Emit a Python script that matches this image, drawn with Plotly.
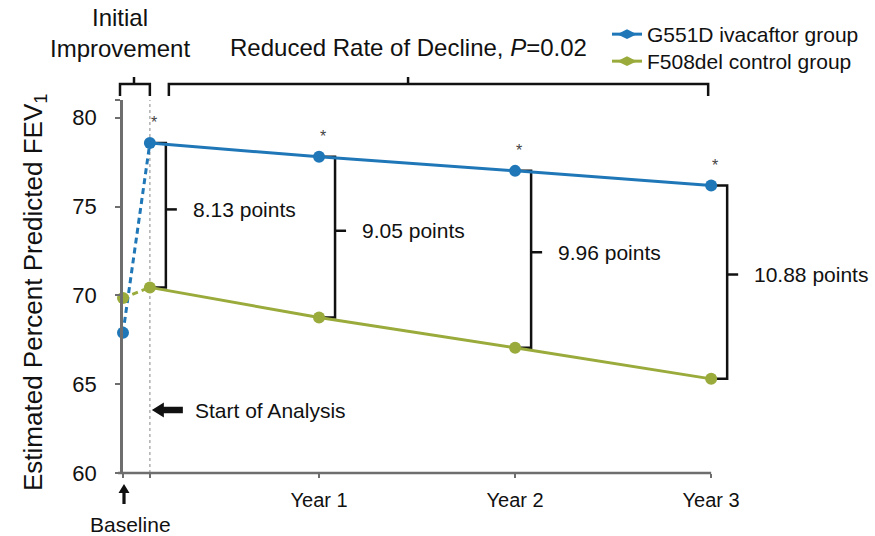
import plotly.graph_objects as go
import numpy as np

# Time points, in years from baseline
baseline_x = 0.0
start_x = 0.137
visit_x = [start_x, 1, 2, 3]

# Estimated percent predicted FEV1
ivacaftor_baseline = 67.9
control_baseline = 69.85
ivacaftor_fev1 = [78.58, 77.80, 77.01, 76.18]
control_fev1 = [70.45, 68.75, 67.05, 65.30]

series_names = ["G551D ivacaftor group", "F508del control group"]
year_ticks = [1, 2, 3]
year_labels = ["Year 1", "Year 2", "Year 3"]
y_ticks = [60, 65, 70, 75, 80]

BLUE = "#1f77b8"
GREEN = "#9aab3c"
INK = "#111111"
AXIS = "#6e6e6e"
FONT = "Liberation Sans, Arial, sans-serif"

W, H = 875, 536
ML, MR, MT, MB = 123, 7, 100, 63
PW, PH = W - ML - MR, H - MT - MB
X_RANGE = [0, 3.8]
Y_RANGE = [60, 81]
PX = (X_RANGE[1] - X_RANGE[0]) / PW   # years per pixel
PY = (Y_RANGE[1] - Y_RANGE[0]) / PH   # FEV1 units per pixel


def xp(v):
    """data x -> paper x"""
    return (v - X_RANGE[0]) / (X_RANGE[1] - X_RANGE[0])


def yp(v):
    """data y -> paper y"""
    return (v - Y_RANGE[0]) / (Y_RANGE[1] - Y_RANGE[0])


def yp_px(py):
    """pixel row -> paper y"""
    return (H - MB - py) / PH


def arrow_path(pts):
    """closed polygon in paper coordinates from (data-x, paper-y) pairs"""
    d = " L ".join(f"{xp(a)},{b}" for a, b in pts)
    return f"M {d} Z"


fig = go.Figure()

# dashed rise from baseline to start of analysis
fig.add_trace(go.Scatter(
    x=[baseline_x, start_x], y=[ivacaftor_baseline, ivacaftor_fev1[0]],
    mode="lines", line=dict(color=BLUE, width=3, dash="6px,4px"),
    showlegend=False, hoverinfo="skip", cliponaxis=False))
fig.add_trace(go.Scatter(
    x=[baseline_x, start_x], y=[control_baseline, control_fev1[0]],
    mode="lines", line=dict(color=GREEN, width=3, dash="6px,4px"),
    showlegend=False, hoverinfo="skip", cliponaxis=False))
fig.add_trace(go.Scatter(
    x=[baseline_x], y=[control_baseline], mode="markers",
    marker=dict(color=GREEN, size=12), showlegend=False, cliponaxis=False))
fig.add_trace(go.Scatter(
    x=[baseline_x], y=[ivacaftor_baseline], mode="markers",
    marker=dict(color=BLUE, size=12), showlegend=False, cliponaxis=False))

# annual trajectories
fig.add_trace(go.Scatter(
    x=visit_x, y=control_fev1, mode="lines+markers",
    line=dict(color=GREEN, width=3), marker=dict(color=GREEN, size=12),
    showlegend=False, cliponaxis=False))
fig.add_trace(go.Scatter(
    x=visit_x, y=ivacaftor_fev1, mode="lines+markers",
    line=dict(color=BLUE, width=3), marker=dict(color=BLUE, size=12),
    showlegend=False, cliponaxis=False))

# legend entries, one legend box per group so rows sit close together
for name, col, lg in zip(series_names, [BLUE, GREEN], ["legend", "legend2"]):
    fig.add_trace(go.Scatter(
        x=[None], y=[None], mode="lines+markers", name=name, legend=lg,
        line=dict(color=col, width=3),
        marker=dict(color=col, size=14, symbol="diamond-wide")))

shapes = []
annotations = []

# start-of-analysis reference line
shapes.append(dict(type="line", xref="x", yref="y", x0=start_x, x1=start_x,
                   y0=Y_RANGE[0], y1=Y_RANGE[1], layer="below",
                   line=dict(color="#b0b0b0", width=1.5, dash="dot")))

# x axis baseline (runs only to Year 3)
shapes.append(dict(type="line", xref="paper", yref="paper",
                   x0=xp(baseline_x - 5 * PX), x1=xp(visit_x[-1]), y0=0, y1=0,
                   line=dict(color=AXIS, width=2.5)))

# difference brackets between the two groups
for i, (xv, top, bot) in enumerate(zip(visit_x, ivacaftor_fev1, control_fev1)):
    xb = xv + 16 * PX
    shapes.append(dict(type="path", xref="x", yref="y", layer="below",
                       path=f"M {xv},{top} L {xb},{top} L {xb},{bot} L {xv},{bot}",
                       line=dict(color=INK, width=2.5)))
    ymid = top - 0.46 * (top - bot)
    shapes.append(dict(type="line", xref="x", yref="y", x0=xb, x1=xb + 11 * PX,
                       y0=ymid, y1=ymid, line=dict(color=INK, width=2.5)))
    annotations.append(dict(x=xb + 25 * PX, y=ymid, xref="x", yref="y",
                            text=f"{top - bot:.2f} points", showarrow=False,
                            xanchor="left", yanchor="middle",
                            font=dict(size=21, color=INK, family=FONT)))
    annotations.append(dict(x=xv, y=top + 1.15, xref="x", yref="y", text="*",
                            showarrow=False, xshift=4,
                            font=dict(size=16, color="#444444", family=FONT)))

# period brackets above the plot
top_y, end_y, tick_y = yp_px(84), yp_px(96), yp_px(77)
periods = [
    (baseline_x - 3 * PX, start_x, baseline_x + 11 * PX),
    (start_x + 19 * PX, visit_x[-1] - 3 * PX, 1.454),
]
for a, b, c in periods:
    shapes.append(dict(type="path", xref="paper", yref="paper",
                       path=(f"M {xp(a)},{end_y} L {xp(a)},{top_y} L {xp(b)},{top_y} "
                             f"L {xp(b)},{end_y}"),
                       line=dict(color=INK, width=2.5)))
    shapes.append(dict(type="line", xref="paper", yref="paper",
                       x0=xp(c), x1=xp(c), y0=top_y, y1=tick_y,
                       line=dict(color=INK, width=2.5)))

annotations.append(dict(x=xp(baseline_x - 3 * PX), y=yp_px(33), xref="paper", yref="paper",
                        text="Initial<br>Improvement", showarrow=False,
                        xanchor="center", yanchor="middle",
                        font=dict(size=24, color=INK, family=FONT)))
annotations.append(dict(x=xp(105 * PX), y=yp_px(48), xref="paper", yref="paper",
                        text="Reduced Rate of Decline, <i>P</i>=0.02", showarrow=False,
                        xanchor="left", yanchor="middle",
                        font=dict(size=24, color=INK, family=FONT)))

# "Start of Analysis" pointer: filled arrow pointing at the reference line
sa_y = yp(60 + 63 * PY)
hy = 7.5 / PH
sy = 3.2 / PH
tip = start_x + 2 * PX
shapes.append(dict(type="path", xref="paper", yref="paper", fillcolor=INK,
                   line=dict(color=INK, width=0),
                   path=arrow_path([(tip, sa_y), (tip + 12 * PX, sa_y + hy),
                                    (tip + 12 * PX, sa_y + sy), (tip + 31 * PX, sa_y + sy),
                                    (tip + 31 * PX, sa_y - sy), (tip + 12 * PX, sa_y - sy),
                                    (tip + 12 * PX, sa_y - hy)])))
annotations.append(dict(x=start_x + 43 * PX, y=60 + 63 * PY, xref="x", yref="y",
                        text="Start of Analysis", showarrow=False,
                        xanchor="left", yanchor="middle",
                        font=dict(size=21, color=INK, family=FONT)))

# Baseline pointer: upward arrow below the axis
bx = baseline_x + 1 * PX
shapes.append(dict(type="path", xref="paper", yref="paper", fillcolor=INK,
                   line=dict(color=INK, width=0),
                   path=arrow_path([(bx, yp_px(484)), (bx + 5.5 * PX, yp_px(493)),
                                    (bx + 1.6 * PX, yp_px(493)), (bx + 1.6 * PX, yp_px(504)),
                                    (bx - 1.6 * PX, yp_px(504)), (bx - 1.6 * PX, yp_px(493)),
                                    (bx - 5.5 * PX, yp_px(493))])))
annotations.append(dict(x=xp(baseline_x + 7 * PX), y=yp_px(524), xref="paper", yref="paper",
                        text="Baseline", showarrow=False, xanchor="center",
                        yanchor="middle", font=dict(size=21, color=INK, family=FONT)))

# y axis title
annotations.append(dict(x=xp(-89 * PX), y=yp_px(293), xref="paper", yref="paper",
                        text="Estimated Percent Predicted FEV<sub>1</sub>",
                        textangle=-90, showarrow=False, xanchor="center",
                        yanchor="middle", font=dict(size=26, color=INK, family=FONT)))

legend_common = dict(xanchor="left", yanchor="top",
                     font=dict(size=21, color=INK, family=FONT),
                     bgcolor="rgba(0,0,0,0)", itemwidth=30)

fig.update_layout(
    width=W, height=H,
    margin=dict(l=ML, r=MR, t=MT, b=MB),
    paper_bgcolor="white", plot_bgcolor="white",
    font=dict(family=FONT, color=INK),
    shapes=shapes, annotations=annotations,
    legend=dict(x=xp(484 * PX), y=yp_px(14), **legend_common),
    legend2=dict(x=xp(484 * PX), y=yp_px(41), **legend_common),
    xaxis=dict(range=X_RANGE, showgrid=False, zeroline=False, showline=False,
               tickvals=year_ticks, ticktext=year_labels,
               ticks="outside", ticklen=4, tickwidth=2, tickcolor=AXIS,
               tickfont=dict(size=20, color=INK, family=FONT),
               ticklabelstandoff=5,
               minor=dict(tickmode="array", tickvals=[baseline_x, start_x],
                          ticks="outside", ticklen=4, tickwidth=2, tickcolor=AXIS,
                          showgrid=False)),
    yaxis=dict(range=Y_RANGE, showgrid=False, zeroline=False, showline=True,
               linecolor=AXIS, linewidth=2.5,
               tickvals=y_ticks, ticktext=[str(v) for v in y_ticks],
               ticks="outside", ticklen=5, tickwidth=2, tickcolor=AXIS,
               tickfont=dict(size=22, color=INK, family=FONT),
               ticklabelstandoff=14,
               minor=dict(tickmode="array", tickvals=[Y_RANGE[1]],
                          ticks="outside", ticklen=5, tickwidth=2, tickcolor=AXIS,
                          showgrid=False)),
)

fig.write_html("out.html")
